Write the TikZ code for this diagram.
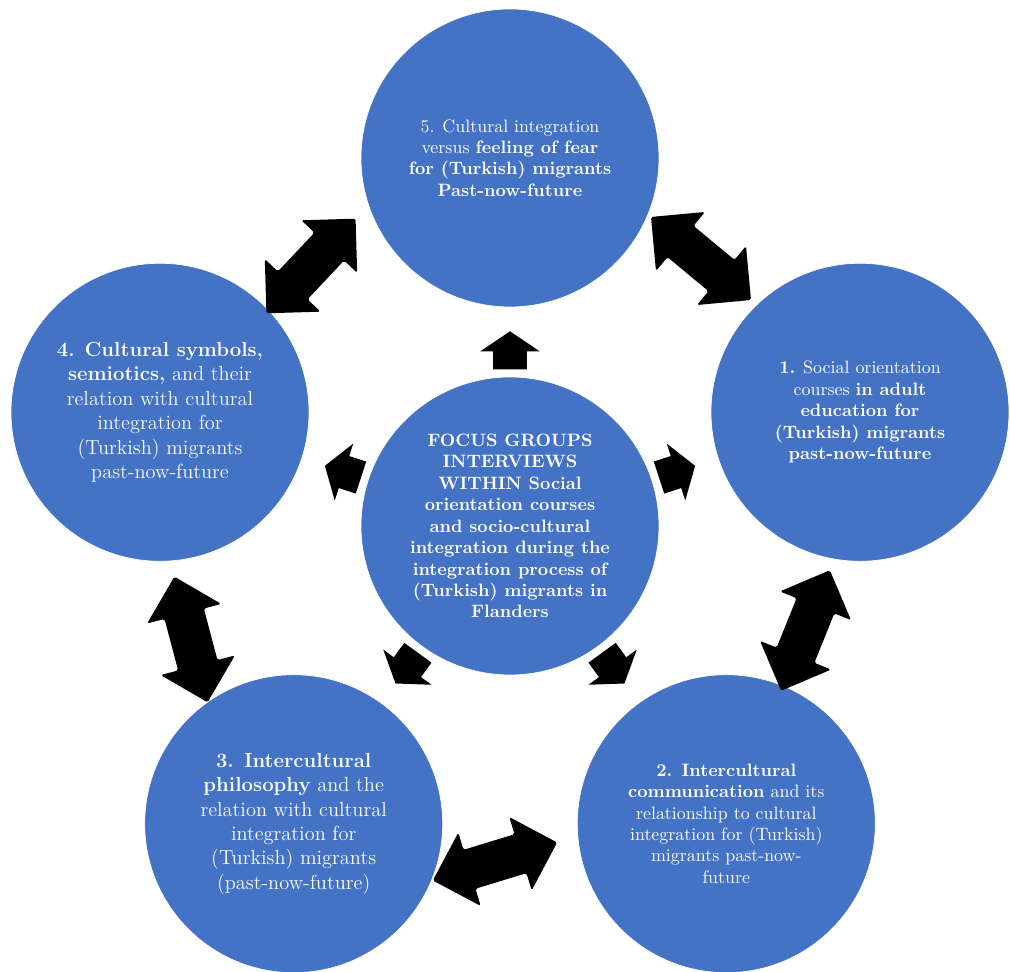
\documentclass[tikz,border=0pt]{standalone}
\usetikzlibrary{shapes.arrows}
\definecolor{bleu}{RGB}{68,114,196}
\begin{document}
\begin{tikzpicture}
            \tikzstyle{rond}=[circle,fill=bleu,draw=white,minimum size=5.96cm,inner sep=0pt,text=white,align=center,font=\fontsize{10.2}{12.2}\selectfont]
            \tikzstyle{grand}=[font=\fontsize{11.6}{13.9}\selectfont]
            \tikzstyle{fleche}=[double arrow,fill=black,rounded corners=1pt,minimum height=2.6cm,double arrow head extend=0.36cm,double arrow tip angle=90,inner xsep=0pt,inner ysep=0.4cm]
            \tikzstyle{petite}=[single arrow,fill=black,minimum height=0.76cm,single arrow head extend=0.26cm,single arrow tip angle=112,inner xsep=0pt,inner ysep=0.33cm]
            \useasboundingbox (-10.2,-8.92) rectangle (10.0,10.52);
            \node[rond,font=\fontsize{10.2}{12.2}\selectfont\bfseries] (centre) at (0,0) {FOCUS GROUPS\\INTERVIEWS\\WITHIN Social\\orientation courses\\and socio-cultural\\integration during the\\integration process of\\(Turkish) migrants in\\Flanders};
            \node[rond] (c1) at (18:7.36) {\textbf{1.} Social orientation\\courses \textbf{in adult}\\\textbf{education for}\\\textbf{(Turkish) migrants}\\\textbf{past-now-future}};
            \node[rond] (c2) at (-54:7.36) {\textbf{2. Intercultural}\\\textbf{communication} and its\\relationship to cultural\\integration for (Turkish)\\migrants past-now-\\future};
            \node[rond,grand] (c3) at (-126:7.36) {\textbf{3. Intercultural}\\\textbf{philosophy} and the\\relation with cultural\\integration for\\(Turkish) migrants\\(past-now-future)};
            \node[rond,grand] (c4) at (162:7.36) {\textbf{4. Cultural symbols,}\\\textbf{semiotics,} and their\\relation with cultural\\integration for\\(Turkish) migrants\\past-now-future};
            \node[rond] (c5) at (90:7.36) {5. Cultural integration\\versus \textbf{feeling of fear}\\\textbf{for (Turkish) migrants}\\\textbf{Past-now-future}};
            \node[petite,rotate=18] (p1) at (18:3.4) {};
            \node[petite,rotate=-54] (p2) at (-54:3.4) {};
            \node[petite,rotate=-126] (p3) at (-126:3.4) {};
            \node[petite,rotate=162] (p4) at (162:3.4) {};
            \node[petite,rotate=90] (p5) at (90:3.4) {};
            \node[fleche,rotate=-39.7] (f51) at (3.82,5.35) {};
            \node[fleche,rotate=68] (f12) at (5.91,-2.09) {};
            \node[fleche,rotate=17] (f23) at (-0.30,-6.71) {};
            \node[fleche,rotate=104.8] (f34) at (-6.38,-2.27) {};
            \node[fleche,rotate=46.7] (f45) at (-3.98,5.20) {};
        \end{tikzpicture}
\end{document}
